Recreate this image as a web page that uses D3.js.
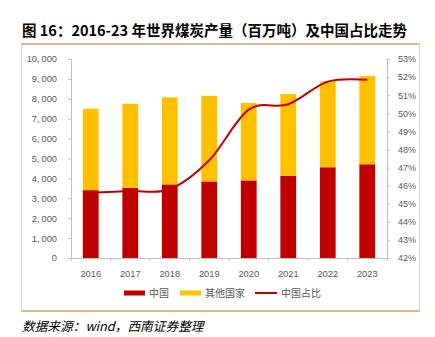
<!DOCTYPE html>
<html><head><meta charset="utf-8">
<script src="https://cdn.jsdelivr.net/npm/d3@7"></script>
<style>body{margin:0;background:#fff;font-family:"Liberation Sans",Arial,sans-serif}</style>
</head><body><svg id="c" width="435" height="337"></svg>
<script>
const years = ["2016","2017","2018","2019","2020","2021","2022","2023"];
const china = [3410, 3520, 3700, 3850, 3900, 4130, 4560, 4710];
const others = [4090, 4230, 4370, 4300, 3890, 4110, 4320, 4440];
const share = [45.6, 45.7, 45.8, 47.4, 50.2, 50.5, 51.75, 51.85];
const leftTicks = [0,1000,2000,3000,4000,5000,6000,7000,8000,9000,10000];
const rightTicks = [42,43,44,45,46,47,48,49,50,51,52,53];
const seriesNames = ["中国","其他国家","中国占比"];
const title = "图 16：2016-23 年世界煤炭产量（百万吨）及中国占比走势";
const source = "数据来源：wind，西南证券整理";

const svg = d3.select("#c");
const red = "#C00000", yellow = "#FFC000", grey = "#595959", axisC = "#BFBFBF", tan = "#C9A26B";
const L = 71, R = 387, T = 59, B = 258;

// title & frame
svg.append("text").attr("x",22).attr("y",35.5).attr("font-size",14.5).attr("font-weight","bold")
  .attr("font-family","'Noto Sans CJK SC','Liberation Sans',sans-serif").attr("fill","#000").text(title);
svg.append("line").attr("x1",21).attr("x2",420).attr("y1",44).attr("y2",44).attr("stroke",tan).attr("stroke-width",1.5);
svg.append("line").attr("x1",21).attr("x2",420).attr("y1",311).attr("y2",311).attr("stroke",tan).attr("stroke-width",1.5);
svg.append("line").attr("x1",21.5).attr("x2",21.5).attr("y1",44).attr("y2",311).attr("stroke","#D9D9D9");
svg.append("line").attr("x1",419.5).attr("x2",419.5).attr("y1",44).attr("y2",311).attr("stroke","#D9D9D9");

const x = d3.scaleBand().domain(years).range([L,R]).paddingInner(0.6).paddingOuter(0.3);
const xb = d3.scaleBand().domain(years).range([L,R]);
const y = d3.scaleLinear().domain([0,10000]).range([B,T]);
const y2 = d3.scaleLinear().domain([42,53]).range([B,T]);

// bars
const g = svg.append("g");
g.selectAll(".c").data(years).enter().append("rect")
  .attr("x",d=>x(d)).attr("width",x.bandwidth())
  .attr("y",(d,i)=>y(china[i])).attr("height",(d,i)=>y(0)-y(china[i])).attr("fill",red);
g.selectAll(".o").data(years).enter().append("rect")
  .attr("x",d=>x(d)).attr("width",x.bandwidth())
  .attr("y",(d,i)=>y(china[i]+others[i])).attr("height",(d,i)=>y(china[i])-y(china[i]+others[i])).attr("fill",yellow);

// axes
const fmt = d3.format(",");
const la = svg.append("g").attr("transform",`translate(${L},0)`)
  .call(d3.axisLeft(y).tickValues(leftTicks).tickSize(3).tickPadding(11).tickFormat(d=>fmt(d).replace(",",",\u2009")));
const ra = svg.append("g").attr("transform",`translate(${R},0)`)
  .call(d3.axisRight(y2).tickValues(rightTicks).tickSize(3).tickPadding(8).tickFormat(d=>d+"%"));
const ba = svg.append("g").attr("transform",`translate(0,${B})`)
  .call(d3.axisBottom(xb).tickSize(0).tickPadding(12));
// category boundary ticks
svg.append("g").selectAll("line").data(d3.range(years.length+1)).enter().append("line")
  .attr("x1",i=>L+i*xb.bandwidth()).attr("x2",i=>L+i*xb.bandwidth())
  .attr("y1",B).attr("y2",B+3).attr("stroke",axisC);
[la,ra,ba].forEach(a=>{
  a.selectAll("path").attr("stroke",axisC);
  a.selectAll("line").attr("stroke",axisC);
  a.selectAll("text").attr("fill",grey).attr("font-size",9.3).attr("font-family","'Liberation Sans',Arial,sans-serif");
});
ra.selectAll("text").attr("font-size",9);
la.select(".domain").attr("d",`M-3,${T}.5H0.5V${B}.5`);
ra.select(".domain").attr("d",`M3,${T}.5H0.5V${B}.5`);

// line
const line = d3.line().x((d,i)=>xb(years[i])+xb.bandwidth()/2).y(d=>y2(d)).curve(d3.curveCardinal.tension(0));
svg.append("path").attr("d",line(share)).attr("fill","none").attr("stroke",red).attr("stroke-width",2);

// legend
const lg = svg.append("g").attr("font-size",10).attr("fill",grey).attr("font-family","'Noto Sans CJK SC',sans-serif");
const ly = 293;
lg.append("rect").attr("x",124).attr("y",ly-2.5).attr("width",21).attr("height",5).attr("fill",red);
lg.append("text").attr("x",149).attr("y",ly+3.5).text(seriesNames[0]);
lg.append("rect").attr("x",180).attr("y",ly-2.5).attr("width",21).attr("height",5).attr("fill",yellow);
lg.append("text").attr("x",205).attr("y",ly+3.5).text(seriesNames[1]);
lg.append("line").attr("x1",255).attr("x2",277).attr("y1",ly).attr("y2",ly).attr("stroke",red).attr("stroke-width",2);
lg.append("text").attr("x",281).attr("y",ly+3.5).text(seriesNames[2]);

// source
svg.append("text").attr("x",22).attr("y",331).attr("font-size",12.7).attr("font-style","italic")
  .attr("font-family","'Noto Sans CJK SC','Liberation Sans',sans-serif").attr("fill","#000").text(source);
</script></body></html>
